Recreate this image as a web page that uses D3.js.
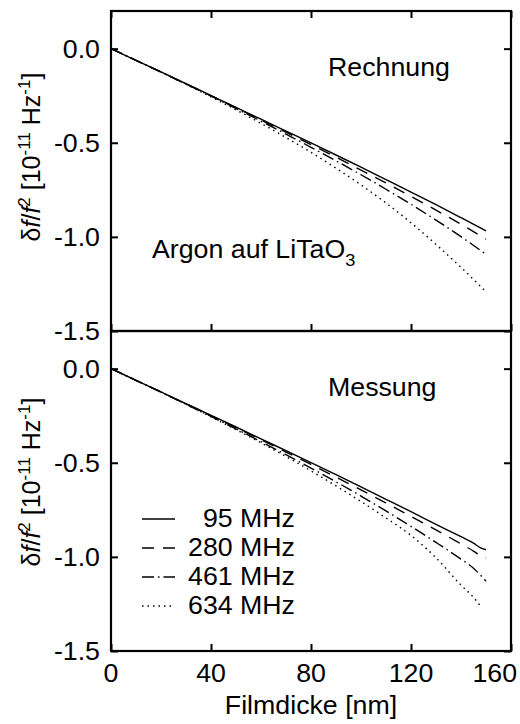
<!DOCTYPE html>
<html><head><meta charset="utf-8">
<script src="https://cdn.jsdelivr.net/npm/d3@7"></script>
<style>
body{margin:0;background:#fff}
svg{display:block}
text{font-family:"Liberation Sans",Arial,Helvetica,sans-serif;fill:#000}
</style>
</head><body>
<svg id="c" width="520" height="724"></svg>
<script>
// ---- data ----
const thicknessTop = [0,10,20,30,40,50,60,70,80,90,100,110,120,130,140,150];
const rechnung95  = [0,-0.062,-0.124,-0.186,-0.249,-0.312,-0.375,-0.438,-0.501,-0.565,-0.630,-0.696,-0.762,-0.829,-0.898,-0.968];
const rechnung280 = [0,-0.062,-0.124,-0.187,-0.250,-0.314,-0.379,-0.444,-0.510,-0.577,-0.645,-0.714,-0.785,-0.858,-0.933,-1.012];
const rechnung461 = [0,-0.062,-0.125,-0.188,-0.252,-0.318,-0.385,-0.454,-0.524,-0.596,-0.670,-0.747,-0.827,-0.911,-0.999,-1.093];
const rechnung634 = [0,-0.062,-0.125,-0.190,-0.256,-0.325,-0.397,-0.472,-0.551,-0.635,-0.724,-0.820,-0.925,-1.040,-1.162,-1.292];

const thicknessBottom = [0,10,20,30,40,50,60,70,80,90,100,110,120,130,140,145,148,150];
const messung95  = [0,-0.062,-0.124,-0.186,-0.248,-0.310,-0.373,-0.436,-0.499,-0.563,-0.628,-0.694,-0.760,-0.827,-0.893,-0.927,-0.953,-0.962];
const messung280 = [0,-0.062,-0.124,-0.187,-0.250,-0.314,-0.378,-0.443,-0.509,-0.576,-0.644,-0.714,-0.785,-0.857,-0.931,-0.969,-0.996,-1.006];
const messung461 = [0,-0.062,-0.125,-0.189,-0.254,-0.320,-0.388,-0.457,-0.528,-0.601,-0.677,-0.756,-0.838,-0.923,-1.012,-1.060,-1.100,-1.129];
const messung634 = [0,-0.062,-0.125,-0.190,-0.256,-0.324,-0.394,-0.467,-0.543,-0.623,-0.706,-0.793,-0.886,-1.005,-1.150,-1.215,-1.265];

const frequencies = ["95 MHz","280 MHz","461 MHz","634 MHz"];
const xTicks = [0,40,80,120,160];
const yTicks = [-1.5,-1.0,-0.5,0.0];

// ---- layout / styles ----
const FS = 25, SX = 1.07, W = 520;
const dashes = [null, "12,9", "12,4,1.5,4", "1.5,4"];
const svg = d3.select("#c");
const x = d3.scaleLinear().domain([0,160]).range([111,511]);
const yTop = d3.scaleLinear().domain([-1.5,0.2]).range([331,11]);
const yBot = d3.scaleLinear().domain([-1.5,0.2]).range([651,331]);

function stext(parent, px, py, anchor, build){
  const g = parent.append("g").attr("transform",`translate(${px},${py}) scale(${SX},1)`);
  const t = g.append("text").attr("text-anchor",anchor).style("font-size",FS+"px");
  build(t);
  return t;
}

function panel(y, xs, series, showTop){
  const g = svg.append("g");
  const TS = 7;
  const axL = d3.axisLeft(y).tickValues(yTicks).tickSizeInner(-TS).tickSizeOuter(0).tickFormat("");
  const axR = d3.axisRight(y).tickValues(yTicks).tickSizeInner(-TS).tickSizeOuter(0).tickFormat("");
  const axB = d3.axisBottom(x).tickValues(xTicks).tickSizeInner(-TS).tickSizeOuter(0).tickFormat("");
  g.append("g").attr("transform",`translate(${x(0)},0)`).call(axL);
  g.append("g").attr("transform",`translate(${x(160)},0)`).call(axR);
  g.append("g").attr("transform",`translate(0,${y(-1.5)})`).call(axB);
  if(showTop){
    const axT = d3.axisTop(x).tickValues(xTicks).tickSizeInner(-TS).tickSizeOuter(0).tickFormat("");
    g.append("g").attr("transform",`translate(0,${y(0.2)})`).call(axT);
  }
  g.selectAll(".domain").remove();
  g.selectAll(".tick line").attr("stroke","#000").attr("stroke-width",2);
  g.append("rect").attr("x",x(0)).attr("y",y(0.2)).attr("width",x(160)-x(0)).attr("height",y(-1.5)-y(0.2))
    .attr("fill","none").attr("stroke","#000").attr("stroke-width",2.2);
  // y labels
  yTicks.forEach(v=>{
    stext(svg, 100, y(v)+9, "end", t=>t.text(v.toFixed(1)));
  });
  const line = d3.line().x(d=>x(d[0])).y(d=>y(d[1])).curve(d3.curveMonotoneX);
  series.forEach((s,i)=>{
    g.append("path").datum(d3.zip(xs,s)).attr("d",line).attr("fill","none")
      .attr("stroke","#000").attr("stroke-width",1.4)
      .attr("stroke-dasharray",dashes[i]);
  });
  return g;
}

panel(yTop, thicknessTop, [rechnung95,rechnung280,rechnung461,rechnung634], true);
panel(yBot, thicknessBottom, [messung95,messung280,messung461,messung634], false);

// x tick labels (last one kept inside the picture)
xTicks.forEach(v=>{
  const last = v === xTicks[xTicks.length-1];
  stext(svg, last ? W-3 : x(v), 682, last ? "end" : "middle", t=>t.text(v));
});
// x title
stext(svg, x(80), 714, "middle", t=>t.text("Filmdicke [nm]"));

// y titles
function ytitle(cy){
  const g = svg.append("g").attr("transform",`translate(40,${cy}) rotate(-90)`);
  const t = g.append("text").attr("text-anchor","middle").style("font-size",FS+"px");
  t.append("tspan").text("δ");
  t.append("tspan").style("font-style","italic").text("f");
  t.append("tspan").text("/");
  t.append("tspan").style("font-style","italic").text("f");
  t.append("tspan").attr("dy",-10).style("font-size","17px").text("2");
  t.append("tspan").attr("dy",10).text(" [10");
  t.append("tspan").attr("dy",-10).style("font-size","17px").text("-11");
  t.append("tspan").attr("dy",10).text(" Hz");
  t.append("tspan").attr("dy",-10).style("font-size","17px").text("-1");
  t.append("tspan").attr("dy",10).text("]");
}
ytitle(157);
ytitle(482);

// annotations
stext(svg, 328, 76, "start", t=>t.text("Rechnung"));
stext(svg, 328, 396, "start", t=>t.text("Messung"));
stext(svg, 152, 258, "start", t=>{
  t.append("tspan").text("Argon auf LiTaO");
  t.append("tspan").attr("dy",8).style("font-size","17px").text("3");
});

// legend
const legY = [519,548,577,606];
frequencies.forEach((f,i)=>{
  svg.append("line").attr("x1",142).attr("x2",175).attr("y1",legY[i]).attr("y2",legY[i])
    .attr("stroke","#000").attr("stroke-width",1.4).attr("stroke-dasharray",dashes[i]);
  stext(svg, 295, legY[i]+8, "end", t=>t.text(f));
});
</script>
</body></html>
